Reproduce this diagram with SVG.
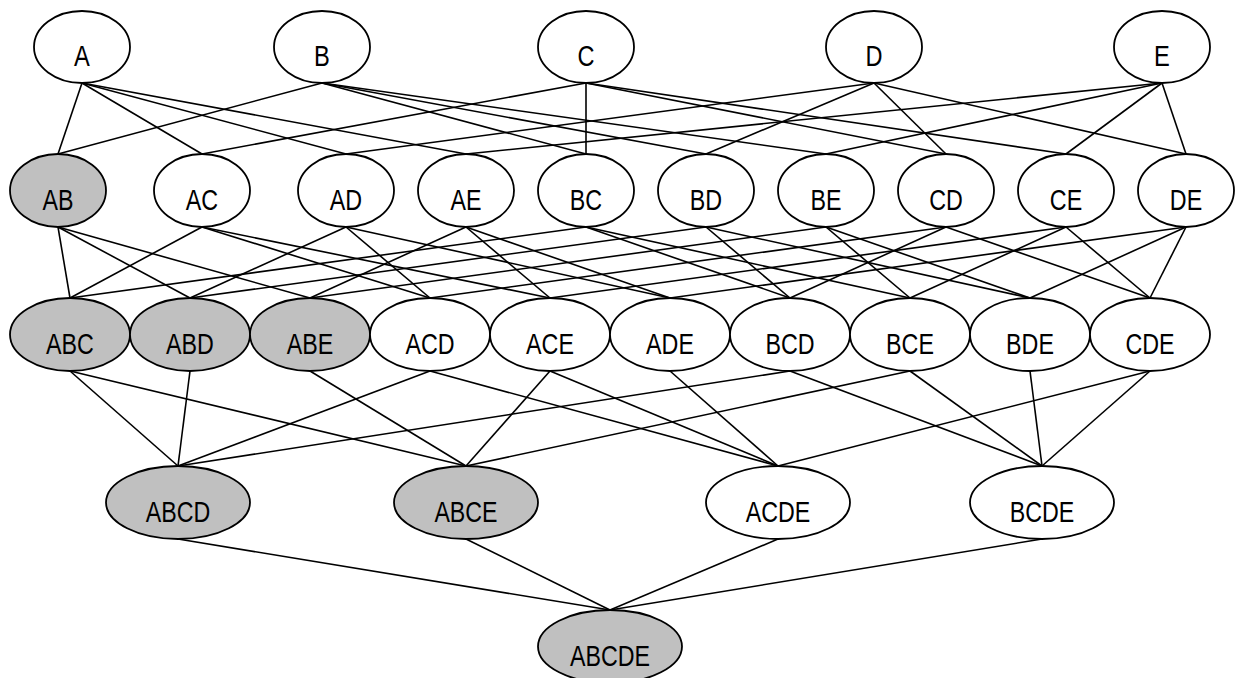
<svg xmlns="http://www.w3.org/2000/svg" width="1236" height="678" viewBox="0 0 1236 678">
<style>
.n ellipse{fill:#fff;stroke:#000;stroke-width:1.8}
.n.s ellipse{fill:#c0c0c0}
.n text{font-family:"Liberation Sans Narrow","Liberation Sans",Arial,sans-serif;font-size:29px;text-anchor:middle;fill:#000}
#edges line{stroke:#000;stroke-width:1.6}
</style>
<rect width="1236" height="678" fill="#fff"/>
<g id="edges">
<line x1="82" y1="83" x2="58" y2="154"/>
<line x1="82" y1="83" x2="202" y2="154"/>
<line x1="82" y1="83" x2="346" y2="154"/>
<line x1="82" y1="83" x2="466" y2="154"/>
<line x1="322" y1="83" x2="58" y2="154"/>
<line x1="322" y1="83" x2="586" y2="154"/>
<line x1="322" y1="83" x2="706" y2="154"/>
<line x1="322" y1="83" x2="826" y2="154"/>
<line x1="586" y1="83" x2="202" y2="154"/>
<line x1="586" y1="83" x2="586" y2="154"/>
<line x1="586" y1="83" x2="946" y2="154"/>
<line x1="586" y1="83" x2="1066" y2="154"/>
<line x1="874" y1="83" x2="346" y2="154"/>
<line x1="874" y1="83" x2="706" y2="154"/>
<line x1="874" y1="83" x2="946" y2="154"/>
<line x1="874" y1="83" x2="1186" y2="154"/>
<line x1="1162" y1="83" x2="466" y2="154"/>
<line x1="1162" y1="83" x2="826" y2="154"/>
<line x1="1162" y1="83" x2="1066" y2="154"/>
<line x1="1162" y1="83" x2="1186" y2="154"/>
<line x1="58" y1="227" x2="70" y2="298"/>
<line x1="58" y1="227" x2="190" y2="298"/>
<line x1="58" y1="227" x2="310" y2="298"/>
<line x1="202" y1="227" x2="70" y2="298"/>
<line x1="202" y1="227" x2="430" y2="298"/>
<line x1="202" y1="227" x2="550" y2="298"/>
<line x1="346" y1="227" x2="190" y2="298"/>
<line x1="346" y1="227" x2="430" y2="298"/>
<line x1="346" y1="227" x2="670" y2="298"/>
<line x1="466" y1="227" x2="310" y2="298"/>
<line x1="466" y1="227" x2="550" y2="298"/>
<line x1="466" y1="227" x2="670" y2="298"/>
<line x1="586" y1="227" x2="70" y2="298"/>
<line x1="586" y1="227" x2="790" y2="298"/>
<line x1="586" y1="227" x2="910" y2="298"/>
<line x1="706" y1="227" x2="190" y2="298"/>
<line x1="706" y1="227" x2="790" y2="298"/>
<line x1="706" y1="227" x2="1030" y2="298"/>
<line x1="826" y1="227" x2="310" y2="298"/>
<line x1="826" y1="227" x2="910" y2="298"/>
<line x1="826" y1="227" x2="1030" y2="298"/>
<line x1="946" y1="227" x2="430" y2="298"/>
<line x1="946" y1="227" x2="790" y2="298"/>
<line x1="946" y1="227" x2="1150" y2="298"/>
<line x1="1066" y1="227" x2="550" y2="298"/>
<line x1="1066" y1="227" x2="910" y2="298"/>
<line x1="1066" y1="227" x2="1150" y2="298"/>
<line x1="1186" y1="227" x2="670" y2="298"/>
<line x1="1186" y1="227" x2="1030" y2="298"/>
<line x1="1186" y1="227" x2="1150" y2="298"/>
<line x1="70" y1="371" x2="178" y2="466"/>
<line x1="70" y1="371" x2="466" y2="466"/>
<line x1="190" y1="371" x2="178" y2="466"/>
<line x1="310" y1="371" x2="466" y2="466"/>
<line x1="430" y1="371" x2="178" y2="466"/>
<line x1="430" y1="371" x2="778" y2="466"/>
<line x1="550" y1="371" x2="466" y2="466"/>
<line x1="550" y1="371" x2="778" y2="466"/>
<line x1="670" y1="371" x2="778" y2="466"/>
<line x1="790" y1="371" x2="178" y2="466"/>
<line x1="790" y1="371" x2="1042" y2="466"/>
<line x1="910" y1="371" x2="466" y2="466"/>
<line x1="910" y1="371" x2="1042" y2="466"/>
<line x1="1030" y1="371" x2="1042" y2="466"/>
<line x1="1150" y1="371" x2="778" y2="466"/>
<line x1="1150" y1="371" x2="1042" y2="466"/>
<line x1="178" y1="539" x2="610" y2="610"/>
<line x1="466" y1="539" x2="610" y2="610"/>
<line x1="778" y1="539" x2="610" y2="610"/>
<line x1="1042" y1="539" x2="610" y2="610"/>
</g>
<g id="A" class="n"><ellipse cx="82" cy="47" rx="48" ry="36"/><text x="82" y="66" textLength="15.8" lengthAdjust="spacingAndGlyphs">A</text></g>
<g id="B" class="n"><ellipse cx="322" cy="47" rx="48" ry="36"/><text x="322" y="66" textLength="15.8" lengthAdjust="spacingAndGlyphs">B</text></g>
<g id="C" class="n"><ellipse cx="586" cy="47" rx="48" ry="36"/><text x="586" y="66" textLength="17" lengthAdjust="spacingAndGlyphs">C</text></g>
<g id="D" class="n"><ellipse cx="874" cy="47" rx="48" ry="36"/><text x="874" y="66" textLength="17" lengthAdjust="spacingAndGlyphs">D</text></g>
<g id="E" class="n"><ellipse cx="1162" cy="47" rx="48" ry="36"/><text x="1162" y="66" textLength="15.8" lengthAdjust="spacingAndGlyphs">E</text></g>
<g id="AB" class="n s"><ellipse cx="58" cy="190.5" rx="48" ry="36.5"/><text x="58" y="209.5" textLength="31" lengthAdjust="spacingAndGlyphs">AB</text></g>
<g id="AC" class="n"><ellipse cx="202" cy="190.5" rx="48" ry="36.5"/><text x="202" y="209.5" textLength="32.3" lengthAdjust="spacingAndGlyphs">AC</text></g>
<g id="AD" class="n"><ellipse cx="346" cy="190.5" rx="48" ry="36.5"/><text x="346" y="209.5" textLength="32.3" lengthAdjust="spacingAndGlyphs">AD</text></g>
<g id="AE" class="n"><ellipse cx="466" cy="190.5" rx="48" ry="36.5"/><text x="466" y="209.5" textLength="31" lengthAdjust="spacingAndGlyphs">AE</text></g>
<g id="BC" class="n"><ellipse cx="586" cy="190.5" rx="48" ry="36.5"/><text x="586" y="209.5" textLength="32.3" lengthAdjust="spacingAndGlyphs">BC</text></g>
<g id="BD" class="n"><ellipse cx="706" cy="190.5" rx="48" ry="36.5"/><text x="706" y="209.5" textLength="32.3" lengthAdjust="spacingAndGlyphs">BD</text></g>
<g id="BE" class="n"><ellipse cx="826" cy="190.5" rx="48" ry="36.5"/><text x="826" y="209.5" textLength="31" lengthAdjust="spacingAndGlyphs">BE</text></g>
<g id="CD" class="n"><ellipse cx="946" cy="190.5" rx="48" ry="36.5"/><text x="946" y="209.5" textLength="33.6" lengthAdjust="spacingAndGlyphs">CD</text></g>
<g id="CE" class="n"><ellipse cx="1066" cy="190.5" rx="48" ry="36.5"/><text x="1066" y="209.5" textLength="32.3" lengthAdjust="spacingAndGlyphs">CE</text></g>
<g id="DE" class="n"><ellipse cx="1186" cy="190.5" rx="48" ry="36.5"/><text x="1186" y="209.5" textLength="32.3" lengthAdjust="spacingAndGlyphs">DE</text></g>
<g id="ABC" class="n s"><ellipse cx="70" cy="334.5" rx="60" ry="36.5"/><text x="70" y="353.5" textLength="47.8" lengthAdjust="spacingAndGlyphs">ABC</text></g>
<g id="ABD" class="n s"><ellipse cx="190" cy="334.5" rx="60" ry="36.5"/><text x="190" y="353.5" textLength="47.8" lengthAdjust="spacingAndGlyphs">ABD</text></g>
<g id="ABE" class="n s"><ellipse cx="310" cy="334.5" rx="60" ry="36.5"/><text x="310" y="353.5" textLength="46.5" lengthAdjust="spacingAndGlyphs">ABE</text></g>
<g id="ACD" class="n"><ellipse cx="430" cy="334.5" rx="60" ry="36.5"/><text x="430" y="353.5" textLength="49.1" lengthAdjust="spacingAndGlyphs">ACD</text></g>
<g id="ACE" class="n"><ellipse cx="550" cy="334.5" rx="60" ry="36.5"/><text x="550" y="353.5" textLength="47.8" lengthAdjust="spacingAndGlyphs">ACE</text></g>
<g id="ADE" class="n"><ellipse cx="670" cy="334.5" rx="60" ry="36.5"/><text x="670" y="353.5" textLength="47.8" lengthAdjust="spacingAndGlyphs">ADE</text></g>
<g id="BCD" class="n"><ellipse cx="790" cy="334.5" rx="60" ry="36.5"/><text x="790" y="353.5" textLength="49.1" lengthAdjust="spacingAndGlyphs">BCD</text></g>
<g id="BCE" class="n"><ellipse cx="910" cy="334.5" rx="60" ry="36.5"/><text x="910" y="353.5" textLength="47.8" lengthAdjust="spacingAndGlyphs">BCE</text></g>
<g id="BDE" class="n"><ellipse cx="1030" cy="334.5" rx="60" ry="36.5"/><text x="1030" y="353.5" textLength="47.8" lengthAdjust="spacingAndGlyphs">BDE</text></g>
<g id="CDE" class="n"><ellipse cx="1150" cy="334.5" rx="60" ry="36.5"/><text x="1150" y="353.5" textLength="49.1" lengthAdjust="spacingAndGlyphs">CDE</text></g>
<g id="ABCD" class="n s"><ellipse cx="178" cy="502.5" rx="72" ry="36.5"/><text x="178" y="521.5" textLength="64.5" lengthAdjust="spacingAndGlyphs">ABCD</text></g>
<g id="ABCE" class="n s"><ellipse cx="466" cy="502.5" rx="72" ry="36.5"/><text x="466" y="521.5" textLength="63.2" lengthAdjust="spacingAndGlyphs">ABCE</text></g>
<g id="ACDE" class="n"><ellipse cx="778" cy="502.5" rx="72" ry="36.5"/><text x="778" y="521.5" textLength="64.5" lengthAdjust="spacingAndGlyphs">ACDE</text></g>
<g id="BCDE" class="n"><ellipse cx="1042" cy="502.5" rx="72" ry="36.5"/><text x="1042" y="521.5" textLength="64.5" lengthAdjust="spacingAndGlyphs">BCDE</text></g>
<g id="ABCDE" class="n s"><ellipse cx="610" cy="646.5" rx="72" ry="36.5"/><text x="610" y="665.5" textLength="80" lengthAdjust="spacingAndGlyphs">ABCDE</text></g>
</svg>
